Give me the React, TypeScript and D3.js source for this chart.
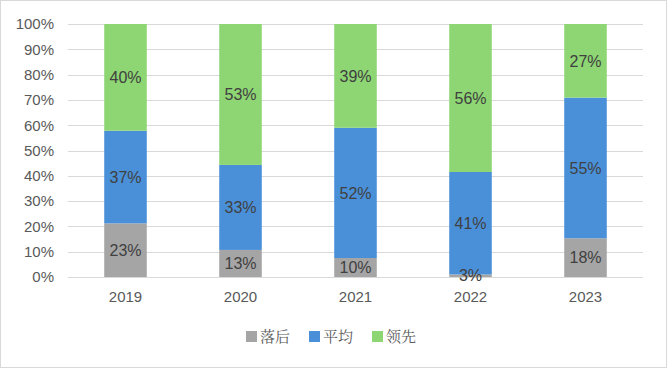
import React, { useEffect, useRef } from "react";
import * as d3 from "d3";

const years = ["2019", "2020", "2021", "2022", "2023"];
const series = ["落后", "平均", "领先"];
// bar heights as drawn (%)
const behind = [21.2, 10.7, 7.5, 1, 15.3];
const average = [36.6, 33.6, 51.5, 40.5, 55.6];
const ahead = [42.2, 55.7, 41, 58.5, 29.1];
// data labels as printed
const behindLabels = ["23%", "13%", "10%", "3%", "18%"];
const averageLabels = ["37%", "33%", "52%", "41%", "55%"];
const aheadLabels = ["40%", "53%", "39%", "56%", "27%"];
const yTicks = [0, 10, 20, 30, 40, 50, 60, 70, 80, 90, 100];

const colors = ["#a5a5a5", "#4a90d9", "#8dd673"];

const App = () => {
  const svgRef = useRef(null);
  const width = 667;
  const height = 368;

  useEffect(() => {
    document.body.style.margin = "0";
    const margin = { top: 24, right: 24, bottom: 91, left: 68 };
    const rows = years.map((y, i) => ({
      year: y,
      [series[0]]: behind[i],
      [series[1]]: average[i],
      [series[2]]: ahead[i],
    }));
    const labels = [behindLabels, averageLabels, aheadLabels];

    const x = d3
      .scaleBand()
      .domain(years)
      .range([margin.left, width - margin.right])
      .paddingInner(0.63)
      .paddingOuter(0.315);
    const y = d3.scaleLinear([0, 100], [height - margin.bottom, margin.top]);

    const svg = d3.select(svgRef.current);
    svg.selectAll("*").remove();

    svg
      .append("rect")
      .attr("x", 0.5)
      .attr("y", 0.5)
      .attr("width", width - 1)
      .attr("height", height - 1)
      .attr("fill", "#fff")
      .attr("stroke", "#d9d9d9");

    // grid
    svg
      .append("g")
      .selectAll("line")
      .data(yTicks)
      .join("line")
      .attr("x1", margin.left)
      .attr("x2", width - margin.right)
      .attr("y1", (d) => Math.round(y(d)) + 0.5)
      .attr("y2", (d) => Math.round(y(d)) + 0.5)
      .attr("stroke", "#d9d9d9");

    const yAxis = d3
      .axisLeft(y)
      .tickValues(yTicks)
      .tickFormat((d) => `${d}%`)
      .tickSize(0)
      .tickPadding(14);
    svg
      .append("g")
      .attr("transform", `translate(${margin.left},0)`)
      .call(yAxis)
      .call((g) => g.select(".domain").remove())
      .selectAll("text")
      .attr("fill", "#595959")
      .style("font", "15px 'Liberation Sans', Arial, sans-serif");

    const xAxis = d3.axisBottom(x).tickSize(0).tickPadding(14);
    svg
      .append("g")
      .attr("transform", `translate(0,${height - margin.bottom})`)
      .call(xAxis)
      .call((g) => g.select(".domain").remove())
      .selectAll("text")
      .attr("fill", "#595959")
      .style("font", "15px 'Liberation Sans', Arial, sans-serif");

    const stacked = d3.stack<any>().keys(series)(rows);

    const layers = svg
      .append("g")
      .selectAll("g")
      .data(stacked)
      .join("g")
      .attr("fill", (_, i) => colors[i]);
    layers
      .selectAll("rect")
      .data((d) => d)
      .join("rect")
      .attr("x", (d) => x(d.data.year)!)
      .attr("width", x.bandwidth())
      .attr("y", (d) => y(d[1]))
      .attr("height", (d) => y(d[0]) - y(d[1]));

    stacked.forEach((layer, si) => {
      svg
        .append("g")
        .selectAll("text")
        .data(layer)
        .join("text")
        .attr("x", (d) => x(d.data.year)! + x.bandwidth() / 2)
        .attr("y", (d) => (y(d[0]) + y(d[1])) / 2)
        .attr("dy", "0.36em")
        .attr("text-anchor", "middle")
        .attr("fill", "#404040")
        .style("font", "16px 'Liberation Sans', Arial, sans-serif")
        .text((_, i) => labels[si][i]);
    });

    // legend
    const legendX = [246, 309, 372];
    const lg = svg
      .append("g")
      .selectAll("g")
      .data(series)
      .join("g")
      .attr("transform", (_, i) => `translate(${legendX[i]},331)`);
    lg.append("rect")
      .attr("width", 11)
      .attr("height", 11)
      .attr("fill", (_, i) => colors[i]);
    lg.append("text")
      .attr("x", 14)
      .attr("y", 6)
      .attr("dy", "0.36em")
      .attr("fill", "#595959")
      .style("font", "15px 'Noto Serif CJK SC', 'Noto Sans CJK SC', serif")
      .text((d) => d);
  }, []);

  return (
    <svg
      ref={svgRef}
      width={width}
      height={height}
      style={{ display: "block", position: "absolute", left: 0, top: 0 }}
    />
  );
};

export default App;
